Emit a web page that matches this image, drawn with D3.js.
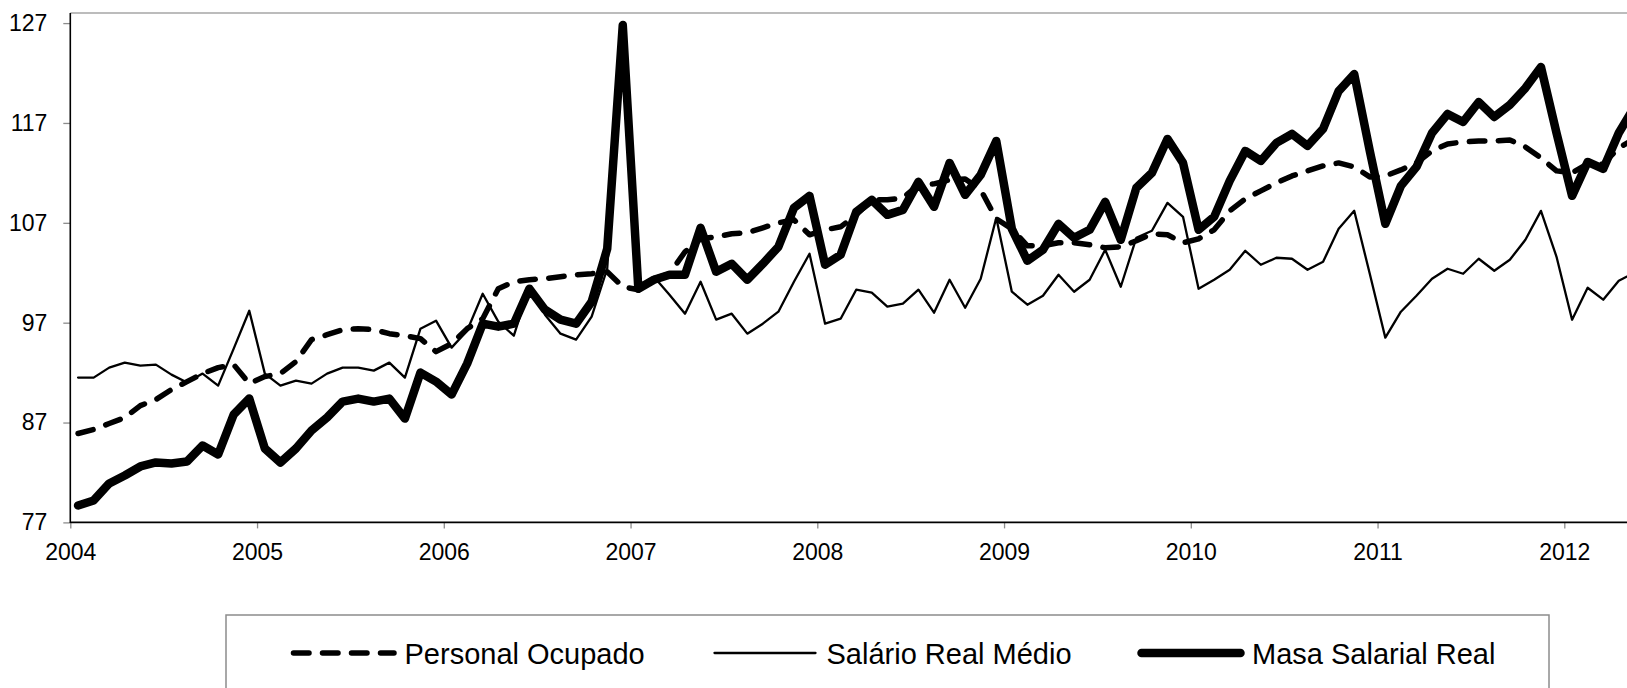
<!DOCTYPE html>
<html>
<head>
<meta charset="utf-8">
<script src="https://cdn.jsdelivr.net/npm/d3@7"></script>
<style>
  html, body { margin: 0; padding: 0; background: #ffffff; }
  svg { display: block; }
  text { font-family: "Liberation Sans", Arial, sans-serif; fill: #000; }
</style>
</head>
<body>
<svg id="chart" width="1627" height="688"></svg>
<script>
// ---- data (monthly, Jan 2004 onward) ----
const yearLabels = ["2004","2005","2006","2007","2008","2009","2010","2011","2012"];
const yTicks = [77, 87, 97, 107, 117, 127];
const seriesNames = ["Personal Ocupado", "Salário Real Médio", "Masa Salarial Real"];

const personal = [
  85.9, 86.3, 86.9, 87.5, 88.7, 89.3, 90.3, 91.1, 91.9, 92.5, 92.8, 90.9,
  91.6, 91.9, 93.1, 95.3, 95.8, 96.3, 96.4, 96.3, 95.9, 95.7, 95.4, 94.1,
  94.9, 96.4, 97.4, 100.4, 101.1, 101.3, 101.4, 101.6, 101.8, 101.9, 102.1, 100.6,
  100.3, 101.4, 101.9, 104.1, 105.4, 105.6, 105.9, 106.0, 106.5, 107.0, 107.3, 105.8,
  106.3, 106.6, 107.8, 109.3, 109.3, 109.5, 110.8, 110.9, 111.3, 111.4, 110.3, 107.4,
  106.4, 104.7, 104.7, 105.0, 105.0, 104.8, 104.5, 104.6, 105.2, 105.9, 105.8, 105.0,
  105.4, 106.3, 108.2, 109.4, 110.2, 111.0, 111.7, 112.2, 112.7, 113.0, 112.6, 111.6,
  111.7, 112.3, 113.0, 114.2, 114.9, 115.1, 115.2, 115.2, 115.3, 114.6, 113.5, 112.2,
  112.0, 112.9, 112.9, 114.5, 115.4
];

const salario = [
  91.5, 91.5, 92.5, 93.0, 92.7, 92.8, 91.8, 91.0, 91.9, 90.7, 94.4, 98.2,
  91.9, 90.7, 91.2, 90.9, 91.9, 92.5, 92.5, 92.2, 93.0, 91.5, 96.4, 97.2,
  94.5, 96.2, 99.9, 97.1, 95.7, 100.6, 97.8, 95.9, 95.3, 97.6, 102.4, 126.0,
  100.1, 101.6, 99.8, 97.9, 101.1, 97.3, 97.9, 95.9, 96.9, 98.1, 101.1, 103.9,
  96.9, 97.4, 100.3, 100.0, 98.6, 98.9, 100.3, 98.0, 101.3, 98.5, 101.4, 107.5,
  100.1, 98.8, 99.7, 101.8, 100.1, 101.3, 104.3, 100.6, 105.5, 106.2, 109.0, 107.6,
  100.4, 101.3, 102.3, 104.2, 102.8, 103.5, 103.4, 102.3, 103.1, 106.4, 108.2, 101.9,
  95.5, 98.1, 99.7, 101.4, 102.4, 101.9, 103.4, 102.2, 103.3, 105.3, 108.2, 103.6,
  97.3, 100.5, 99.3, 101.2, 102.0
];

const masa = [
  78.7, 79.2, 80.9, 81.7, 82.6, 83.0, 82.9, 83.1, 84.7, 83.8, 87.8, 89.4,
  84.4, 83.0, 84.4, 86.2, 87.5, 89.1, 89.4, 89.1, 89.4, 87.4, 92.0, 91.1,
  89.8, 92.9, 96.9, 96.6, 96.9, 100.4, 98.3, 97.3, 96.9, 99.1, 104.4, 126.8,
  100.4, 101.3, 101.8, 101.8, 106.5, 102.1, 102.9, 101.3, 102.9, 104.6, 108.5, 109.7,
  102.8, 103.8, 108.1, 109.3, 107.8, 108.3, 111.1, 108.6, 113.0, 109.8, 111.8, 115.2,
  106.4, 103.2, 104.3, 106.9, 105.5, 106.3, 109.1, 105.3, 110.5, 112.0, 115.4, 113.0,
  106.3, 107.6, 111.2, 114.2, 113.2, 115.0, 115.9, 114.7, 116.4, 120.2, 121.9, 114.2,
  106.9, 110.7, 112.6, 116.0, 117.9, 117.1, 119.1, 117.6, 118.8, 120.5, 122.6, 116.0,
  109.7, 113.1, 112.4, 116.0, 118.6
];

// ---- layout ----
const svg = d3.select("#chart");
const left = 70.3, monthW = 15.5625, monthsSpan = 108;
const yTop = 23.1, yBottom = 522.4, frameTop = 13.1;

const x = d3.scaleLinear().domain([0, monthsSpan]).range([left, left + monthsSpan * monthW]);
const y = d3.scaleLinear().domain([77, 127]).range([yBottom, yTop]);

svg.append("rect").attr("width", 1627).attr("height", 688).attr("fill", "#fff");

// top frame line (gray)
svg.append("line")
  .attr("x1", left).attr("x2", x(monthsSpan))
  .attr("y1", frameTop).attr("y2", frameTop)
  .attr("stroke", "#a6a6a6").attr("stroke-width", 1.5);

// Y axis
const yAxis = svg.append("g").attr("transform", `translate(${left},0)`)
  .call(d3.axisLeft(y).tickValues(yTicks).tickSize(7).tickPadding(16).tickFormat(d3.format("d")));
yAxis.select(".domain").remove();
yAxis.selectAll(".tick line").attr("stroke", "#8c8c8c").attr("stroke-width", 1.3);
yAxis.selectAll(".tick text").attr("font-size", 23).attr("font-family", "Liberation Sans, Arial, sans-serif").attr("fill", "#000");

// X axis
const yearMonths = yearLabels.map((_, k) => k * 12);
const xAxis = svg.append("g").attr("transform", `translate(0,${yBottom})`)
  .call(d3.axisBottom(x).tickValues(yearMonths).tickSize(6).tickFormat((d, k) => yearLabels[k]));
xAxis.select(".domain").remove();
xAxis.selectAll(".tick line").attr("stroke", "#8c8c8c").attr("stroke-width", 1.3);
xAxis.selectAll(".tick text").attr("font-size", 23).attr("font-family", "Liberation Sans, Arial, sans-serif")
  .attr("fill", "#000").attr("y", 37.5).attr("dy", 0);

// axis lines (black)
svg.append("line").attr("x1", left).attr("x2", left).attr("y1", frameTop).attr("y2", yBottom + 0.5)
  .attr("stroke", "#000").attr("stroke-width", 1.6);
svg.append("line").attr("x1", left).attr("x2", x(monthsSpan)).attr("y1", yBottom).attr("y2", yBottom)
  .attr("stroke", "#000").attr("stroke-width", 1.8);

// series lines
const line = d3.line().x((d, i) => x(i + 0.5)).y(d => y(d));
const styles = [
  { data: personal, width: 5.5, dash: "15.5 13.5" },
  { data: salario, width: 2.3, dash: null },
  { data: masa, width: 8.5, dash: null }
];
styles.forEach(s => {
  svg.append("path").datum(s.data)
    .attr("d", line)
    .attr("fill", "none")
    .attr("stroke", "#000")
    .attr("stroke-width", s.width)
    .attr("stroke-linejoin", "round")
    .attr("stroke-linecap", "round")
    .attr("stroke-dasharray", s.dash);
});

// legend
svg.append("rect").attr("x", 226).attr("y", 615).attr("width", 1323).attr("height", 120)
  .attr("fill", "#fff").attr("stroke", "#8c8c8c").attr("stroke-width", 1.5);
const legendItems = [
  { x1: 293.5, x2: 394, tx: 404.5, width: 5.5, dash: "15.5 13.5" },
  { x1: 714.5, x2: 815.5, tx: 826.5, width: 2.3, dash: null },
  { x1: 1141.5, x2: 1240.5, tx: 1252, width: 8.5, dash: null }
];
const legendY = 653;
legendItems.forEach((it, k) => {
  svg.append("line").attr("x1", it.x1).attr("x2", it.x2).attr("y1", legendY).attr("y2", legendY)
    .attr("stroke", "#000").attr("stroke-width", it.width)
    .attr("stroke-linecap", "round").attr("stroke-dasharray", it.dash);
  svg.append("text").attr("x", it.tx).attr("y", 663.5)
    .attr("font-size", 29).text(seriesNames[k]);
});
</script>
</body>
</html>
